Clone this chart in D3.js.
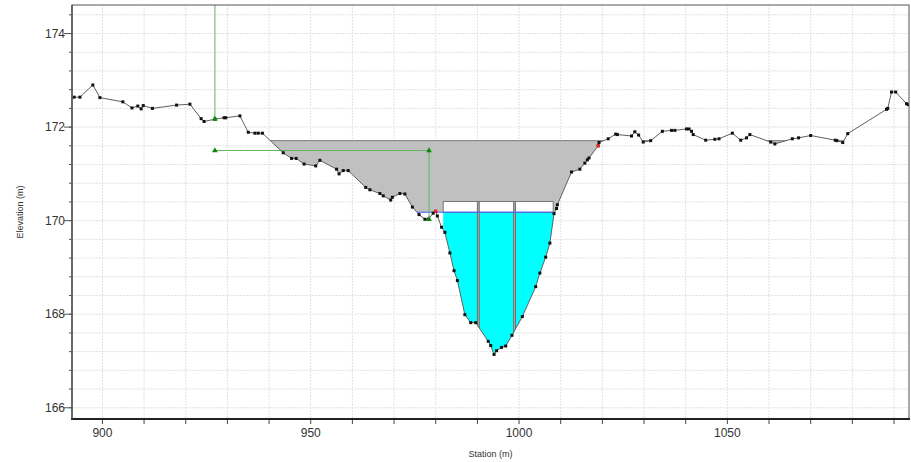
<!DOCTYPE html>
<html>
<head>
<meta charset="utf-8">
<script src="https://cdn.jsdelivr.net/npm/d3@7"></script>
<style>
  body { margin: 0; background: #fff; }
  text { font-family: 'Liberation Sans', Arial, sans-serif; }
</style>
</head>
<body>
<div id="chart"></div>
<script>
// ground profile (station m, elevation m)
const stations = [893.2, 894.6, 897.7, 899.4, 904.9, 907.1, 908.5, 909.3, 909.8, 912.0,
  917.8, 921.0, 923.7, 924.4, 927.0, 929.2, 929.6, 933.0, 935.0, 936.6,
  937.4, 938.4, 943.4, 945.4, 946.5, 948.4, 951.2, 952.2, 956.2, 956.8,
  957.8, 959.0, 963.2, 964.2, 966.6, 967.4, 969.2, 969.6, 971.4, 972.6,
  974.4, 976.0, 977.4, 978.2, 979.4, 980.0, 980.4, 981.4, 982.2, 983.4,
  984.4, 985.2, 987.0, 988.4, 989.6, 992.6, 993.2, 994.0, 994.6, 995.8,
  996.8, 998.3, 1000.8, 1004.0, 1005.0, 1006.4, 1007.4, 1008.4, 1009.0, 1009.2,
  1012.6, 1014.6, 1015.8, 1016.4, 1016.8, 1019.0, 1019.2, 1021.4, 1023.2, 1023.6,
  1027.0, 1027.8, 1028.7, 1029.8, 1031.6, 1034.4, 1036.6, 1037.4, 1040.2, 1040.8,
  1041.4, 1041.8, 1044.8, 1047.0, 1048.0, 1051.2, 1053.2, 1054.6, 1055.4, 1060.4,
  1061.4, 1065.6, 1067.1, 1070.0, 1075.9, 1076.3, 1077.7, 1078.9, 1088.2, 1088.5,
  1089.4, 1090.4, 1093.0, 1093.4]
const elevations = [172.64, 172.64, 172.90, 172.63, 172.54, 172.41, 172.45, 172.39, 172.46, 172.40,
  172.47, 172.49, 172.18, 172.12, 172.17, 172.20, 172.20, 172.24, 171.89, 171.87,
  171.87, 171.87, 171.45, 171.33, 171.33, 171.21, 171.17, 171.29, 171.10, 171.00,
  171.07, 171.07, 170.71, 170.66, 170.58, 170.53, 170.44, 170.50, 170.58, 170.57,
  170.29, 170.13, 170.03, 170.03, 170.16, 170.20, 170.10, 169.86, 169.75, 169.31,
  168.93, 168.72, 167.99, 167.82, 167.82, 167.42, 167.33, 167.14, 167.22, 167.29,
  167.32, 167.55, 167.95, 168.59, 168.88, 169.22, 169.52, 170.15, 170.26, 170.34,
  171.04, 171.10, 171.23, 171.30, 171.34, 171.60, 171.67, 171.75, 171.85, 171.84,
  171.81, 171.90, 171.83, 171.68, 171.71, 171.91, 171.93, 171.93, 171.96, 171.96,
  171.91, 171.84, 171.72, 171.74, 171.75, 171.87, 171.72, 171.77, 171.84, 171.68,
  171.64, 171.75, 171.77, 171.82, 171.72, 171.71, 171.67, 171.86, 172.38, 172.40,
  172.75, 172.75, 172.50, 172.48]

const bankStations = [[980.0, 170.20], [1019.0, 171.60]]

const waterSurface = 171.71
const culvertWs = 170.18
const culvertWsLine = [975.6, 1008.4]
const culvertTop = 170.41
const culvertCells = [[981.8, 990.0], [990.45, 998.7], [999.15, 1008.2]]

// green lines
const gaugeVertical = [[927.0, 175.0], [927.0, 172.17]]
const gaugeVerticalMarks = [[927.0, 172.17]]
const gaugeStep = [[927.0, 171.5], [978.4, 171.5], [978.4, 170.03]]

const xTicks = [900, 950, 1000, 1050]
const yTicks = [166, 168, 170, 172, 174]

const width = 911, height = 462
const pL = 72, pR = 909, pT = 5, pB = 419

const svg = d3.select('#chart').append('svg')
  .attr('width', width).attr('height', height)

const x = d3.scaleLinear().domain([892.7, 1093.6]).range([pL, pR])
const y = d3.scaleLinear().domain([165.76, 174.61]).range([pB, pT])

const ground = stations.map((s, i) => [s, elevations[i]])
const line = d3.line().x(d => x(d[0])).y(d => y(d[1]))

const defs = svg.append('defs')
defs.append('clipPath').attr('id', 'plot')
  .append('rect').attr('x', pL).attr('y', pT).attr('width', pR - pL).attr('height', pB - pT)
// region above ground
const sFirst = stations[0], sLast = stations[stations.length - 1]
const aboveGround = [[sFirst - 5, 180], [sFirst - 5, elevations[0]]].concat(ground,
  [[sLast + 5, elevations[elevations.length - 1]], [sLast + 5, 180]])
defs.append('clipPath').attr('id', 'above')
  .append('path').attr('d', line(aboveGround) + 'Z')

// grid
const xGrid = d3.range(900, 1094, 10)
const yGrid = d3.range(0, 23).map(i => +(165.6 + i * 0.4).toFixed(1)).filter(d => d > 165.76 && d < 174.61)
const grid = svg.append('g')
grid.selectAll('line.gx')
  .data(xGrid)
  .enter().append('line')
  .attr('x1', d => x(d)).attr('x2', d => x(d))
  .attr('y1', pT).attr('y2', pB)
  .attr('stroke', '#e2e2e2').attr('stroke-dasharray', '2,1')
grid.selectAll('line.gy')
  .data(yGrid)
  .enter().append('line')
  .attr('x1', pL).attr('x2', pR)
  .attr('y1', d => y(d)).attr('y2', d => y(d))
  .attr('stroke', '#e2e2e2').attr('stroke-dasharray', '2,1')

const plot = svg.append('g').attr('clip-path', 'url(#plot)')
const wet = plot.append('g').attr('clip-path', 'url(#above)')

// water area in section
wet.append('rect')
  .attr('x', pL).attr('width', pR - pL)
  .attr('y', y(waterSurface)).attr('height', y(culvertWs) - y(waterSurface))
  .attr('fill', '#c0c0c0')
wet.append('line')
  .attr('x1', pL).attr('x2', pR)
  .attr('y1', y(waterSurface)).attr('y2', y(waterSurface))
  .attr('stroke', '#7a7a7a').attr('stroke-width', 1)

// culvert flow
wet.append('rect')
  .attr('x', x(culvertCells[0][0])).attr('width', x(1009.2) - x(culvertCells[0][0]))
  .attr('y', y(culvertWs)).attr('height', pB - y(culvertWs))
  .attr('fill', '#00ffff')

// culvert cells above water
plot.selectAll('rect.cell')
  .data(culvertCells)
  .enter().append('rect')
  .attr('x', d => x(d[0])).attr('width', d => x(d[1]) - x(d[0]))
  .attr('y', y(culvertTop)).attr('height', y(culvertWs) - y(culvertTop))
  .attr('fill', '#fff').attr('stroke', '#777').attr('stroke-width', 1)

// piers between cells
const piers = d3.range(culvertCells.length - 1).map(i => [culvertCells[i][1], culvertCells[i + 1][0]])
wet.selectAll('rect.pier')
  .data(piers)
  .enter().append('rect')
  .attr('x', d => x(d[0])).attr('width', d => x(d[1]) - x(d[0]))
  .attr('y', y(culvertTop)).attr('height', pB - y(culvertTop))
  .attr('fill', '#b0b0b0').attr('stroke', '#707070').attr('stroke-width', 1)

// culvert water surface
plot.append('line')
  .attr('x1', x(culvertWsLine[0])).attr('x2', x(culvertWsLine[1]))
  .attr('y1', y(culvertWs)).attr('y2', y(culvertWs))
  .attr('stroke', '#4060ff').attr('stroke-width', 1)

// green lines
plot.append('path').attr('d', line(gaugeVertical))
  .attr('fill', 'none').attr('stroke', '#5cb85c').attr('stroke-width', 1)
plot.append('path').attr('d', line(gaugeStep))
  .attr('fill', 'none').attr('stroke', '#5cb85c').attr('stroke-width', 1)

// ground line
plot.append('path').attr('d', line(ground))
  .attr('fill', 'none').attr('stroke', '#606060').attr('stroke-width', 1)

plot.selectAll('rect.pt')
  .data(ground)
  .enter().append('rect')
  .attr('x', d => x(d[0]) - 1.5).attr('y', d => y(d[1]) - 1.5)
  .attr('width', 3).attr('height', 3)
  .attr('fill', '#111')

plot.selectAll('rect.bank')
  .data(bankStations)
  .enter().append('rect')
  .attr('x', d => x(d[0]) - 1.5).attr('y', d => y(d[1]) - 1.5)
  .attr('width', 3).attr('height', 3)
  .attr('fill', '#ff2020')

const tri = d3.symbol().type(d3.symbolTriangle).size(14)
plot.selectAll('path.tri')
  .data(gaugeVerticalMarks.concat(gaugeStep))
  .enter().append('path')
  .attr('d', tri)
  .attr('transform', d => `translate(${x(d[0])},${y(d[1])})`)
  .attr('fill', '#0a8a0a')

// axes
const xAxis = svg.append('g').attr('transform', `translate(0,${pB})`)
xAxis.selectAll('line')
  .data(xGrid)
  .enter().append('line')
  .attr('x1', d => x(d)).attr('x2', d => x(d))
  .attr('y1', 0).attr('y2', 5)
  .attr('stroke', '#444')
xAxis.selectAll('text')
  .data(xTicks)
  .enter().append('text')
  .attr('x', d => x(d)).attr('y', 18)
  .attr('text-anchor', 'middle')
  .attr('font-size', 12).attr('fill', '#333')
  .text(d => d)

const yAxis = svg.append('g').attr('transform', `translate(${pL},0)`)
yAxis.selectAll('line.minor')
  .data(yGrid)
  .enter().append('line')
  .attr('x1', -3).attr('x2', 0)
  .attr('y1', d => y(d)).attr('y2', d => y(d))
  .attr('stroke', '#555')
yAxis.selectAll('line.major')
  .data(yTicks)
  .enter().append('line')
  .attr('x1', -8).attr('x2', 0)
  .attr('y1', d => y(d)).attr('y2', d => y(d))
  .attr('stroke', '#555')
yAxis.selectAll('text')
  .data(yTicks)
  .enter().append('text')
  .attr('x', -7).attr('y', d => y(d) + 4)
  .attr('text-anchor', 'end')
  .attr('font-size', 12).attr('fill', '#333')
  .text(d => d)

// frame
svg.append('rect')
  .attr('x', pL).attr('y', pT).attr('width', pR - pL).attr('height', pB - pT)
  .attr('fill', 'none').attr('stroke', '#555').attr('stroke-width', 1)
svg.append('line')
  .attr('x1', pL - 1).attr('x2', pR + 1).attr('y1', pB).attr('y2', pB)
  .attr('stroke', '#222').attr('stroke-width', 2)
svg.append('line')
  .attr('x1', pL).attr('x2', pL).attr('y1', pT).attr('y2', pB)
  .attr('stroke', '#555').attr('stroke-width', 1.5)

svg.append('text')
  .attr('x', (pL + pR) / 2).attr('y', 457)
  .attr('text-anchor', 'middle').attr('font-size', 9).attr('fill', '#333')
  .text('Station (m)')
svg.append('text')
  .attr('transform', `translate(23,${(pT + pB) / 2}) rotate(-90)`)
  .attr('text-anchor', 'middle').attr('font-size', 9).attr('fill', '#333')
  .text('Elevation (m)')
</script>
</body>
</html>
